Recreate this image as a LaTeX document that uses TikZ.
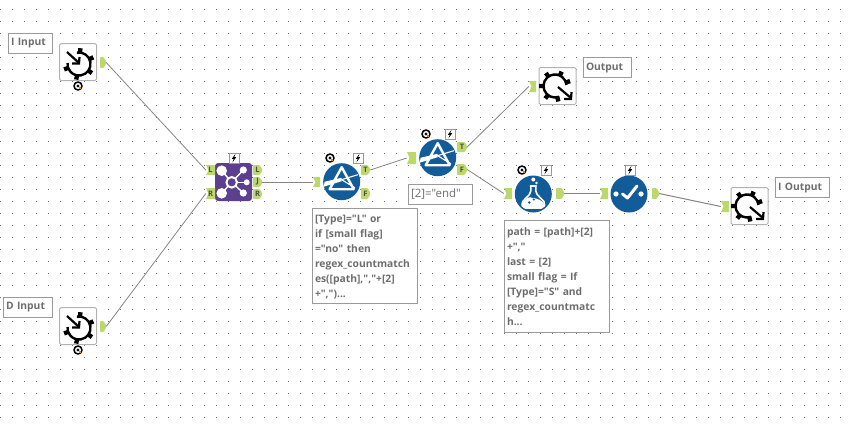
\documentclass[tikz,border=0pt]{standalone}
\usepackage{fontspec}
\setmainfont[Ligatures=NoCommon,Mapping=]{Open Sans}
\definecolor{portgreen}{HTML}{BCD86C}
\definecolor{toolblue}{HTML}{135C9A}
\definecolor{joinpurple}{HTML}{5C3F8F}
\definecolor{wire}{HTML}{858585}
\definecolor{labelgrey}{HTML}{6E6E6E}
\definecolor{frameg}{HTML}{9A9A9A}
\tikzset{
  griddot/.style={fill=black!55},
  labelbox/.style={draw=frameg,line width=1pt,fill=white,inner xsep=2.5pt,inner ysep=0pt,anchor=north west,align=left,text=labelgrey,font=\fontsize{10.3}{15}\selectfont\bfseries},
  gearbox/.style={draw=black!30,line width=1pt,fill=white,rounded corners=1.5pt,minimum width=37pt,minimum height=37pt,inner sep=0pt},
  toolcircle/.style={circle,fill=toolblue,minimum size=37pt,inner sep=0pt},
  joinbox/.style={fill=joinpurple,rounded corners=3pt,minimum width=37pt,minimum height=38pt,inner sep=0pt},
  portnode/.style={inner sep=0pt,font=\fontsize{7.5}{8}\selectfont\bfseries,text=black!70},
  wireline/.style={draw=wire,line width=0.8pt},
  iconw/.style={draw=white,line cap=round,line join=round},
}
\newcommand\inport[6]{%
  \fill[portgreen] (#2,#4) -- (#3,#4) -- (#3,#5) -- (#2,#5) -- ({#2+2.5},{(#4+#5)/2}) -- cycle;
  \node[portnode,minimum width={(#3-#2)*1pt},minimum height={(#5-#4)*1pt}] (#1) at ({(#2+#3)/2},{(#4+#5)/2}) {#6};}
\newcommand\outport[6]{%
  \fill[portgreen,rounded corners=0.8pt] (#2,#4) -- ({#3-2.5},#4) -- (#3,{(#4+#5)/2-1.5}) -- (#3,{(#4+#5)/2+1.5}) -- ({#3-2.5},#5) -- (#2,#5) -- cycle;
  \node[portnode,minimum width={(#3-#2)*1pt},minimum height={(#5-#4)*1pt}] (#1) at ({(#2+#3)/2},{(#4+#5)/2}) {#6};}
\newcommand\bolt[2]{%
  \draw[draw=black!40,fill=white,line width=0.7pt] (#1,#2) rectangle ({#1+10},{#2+10});
  \fill[black] ({#1+6.5},{#2+0.8}) -- ({#1+2.8},{#2+5.8}) -- ({#1+4.8},{#2+5.8}) -- ({#1+3.4},{#2+9.4}) -- ({#1+7.2},{#2+4.2}) -- ({#1+5.2},{#2+4.2}) -- cycle;}
\newcommand\qbadge[2]{%
  \fill[black] (#1,#2) circle[radius=4.8];
  \draw[white,line width=1.4pt] (#1,#2) circle[radius=2.3];
  \draw[orange,line width=0.8pt] ({#1+1.2},{#2+1.2}) -- ({#1+3},{#2+3});}
\newcommand\geariconin[2]{%
  \begin{scope}[shift={(#1,#2)},y=1pt]
    \draw[black,line width=2.4pt] (100:11.5) arc[start angle=100,end angle=-185,radius=11.5];
    \foreach \a in {85,25,-35,-100,-160}{\fill[black] (\a-11:11) -- (\a-8:16) -- (\a+8:16) -- (\a+11:11) -- cycle;}
    \draw[black,line width=2.2pt] (-12,12) -- (0,1);
    \draw[black,line width=2.2pt] (-7,0.5) -- (0,0.5) -- (0.5,7);
  \end{scope}}
\newcommand\geariconout[2]{%
  \begin{scope}[shift={(#1,#2)},y=1pt]
    \draw[black,line width=2.4pt] (-70:11.5) arc[start angle=-70,end angle=-355,radius=11.5];
    \foreach \a in {18,65,125,180,232,-78}{\fill[black] (\a-11:11) -- (\a-8:16) -- (\a+8:16) -- (\a+11:11) -- cycle;}
    \draw[black,line width=2.2pt] (3,-1) -- (16,-12);
    \draw[black,line width=2.2pt] (9,-13) -- (16,-13) -- (16.5,-6);
  \end{scope}}
\newcommand\filtericon[2]{%
  \begin{scope}[shift={(#1,#2)},y=1pt]
    \draw[iconw,line width=2.4pt] (0,14.5) -- (-12,-7.5) -- (12,-7.5) -- cycle;
    \fill[white] (-18,-5) -- (-17,0) -- (0,4) -- (0,0.5) -- cycle;
    \draw[iconw,line width=1.1pt] (0,2) -- (16,7);
    \draw[iconw,line width=1.1pt] (0,2) -- (13,-6);
  \end{scope}}
\begin{document}
\begin{tikzpicture}[x=1pt,y=-1pt]
\useasboundingbox (0,0) rectangle (852,424);
\fill[white] (0,0) rectangle (852,424);
\foreach \i in {0,...,71}{\foreach \j in {0,...,34}{\fill[griddot] ({12*\i},{9+12*\j}) rectangle ++(1,1);}}
% labels
\node[labelbox,text width=39pt,minimum height=20pt] (lblI) at (8,33) {I Input};
\node[labelbox,text width=44pt,minimum height=20pt] (lblD) at (3,297) {D Input};
\node[labelbox,text width=43pt,minimum height=20pt] (lblO) at (583,57) {Output};
\node[labelbox,text width=49pt,minimum height=20pt] (lblIO) at (775,177) {I Output};
\node[labelbox,text width=59pt,minimum height=20pt,font=\fontsize{11.5}{15}\selectfont] (lblF2) at (408,184) {[2]="end"};
\node[labelbox,text width=100pt,inner ysep=4.5pt,inner xsep=2.5pt] (lblF1) at (312,208) {\rule{0pt}{3pt}\\[-9pt][Type]="L" or\\if [small flag]\\="no" then\\regex\_countmatch\\es([path],","+[2]\\+",")...};
\node[labelbox,text width=100pt,inner ysep=7.5pt,inner xsep=2.5pt] (lblFm) at (504,220) {\rule{0pt}{3pt}\\[-11pt]path = [path]+[2]\\+","\\last = [2]\\small flag = If\\{[Type]}="S" and\\regex\_countmatc\\h...};
% gear tools
\node[gearbox] (inI) at (78,62) {};
\geariconin{79}{64}
\qbadge{78}{86}
\node[gearbox] (inD) at (78,326) {};
\geariconin{79}{328}
\qbadge{78}{350}
\node[gearbox] (outO) at (557.5,86) {};
\geariconout{555}{86}
\node[gearbox] (outI) at (749.5,206) {};
\geariconout{747}{206}
% join tool
\node[joinbox] (join) at (233.5,182) {};
\foreach \px/\py in {221.7/170.7,221.7/193.3,243.3/170,246.7/182.3,243.3/193}{\draw[white,line width=1.4pt] (231.7,182.3) -- (\px,\py);}
\fill[white] (221.7,170.7) circle[radius=5.3];
\fill[white] (221.7,193.3) circle[radius=5.3];
\fill[white] (243.3,170) circle[radius=3.6];
\fill[white] (246.7,182.3) circle[radius=3];
\fill[white] (243.3,193) circle[radius=3.6];
\draw[white,fill=joinpurple,line width=2pt] (231.7,182.3) circle[radius=5.3];
\bolt{229}{153}
% filters
\node[toolcircle] (f1) at (341.7,181.7) {};
\filtericon{341.7}{181.7}
\bolt{353}{153}
\qbadge{330}{158}
\node[toolcircle] (f2) at (437.7,157.7) {};
\filtericon{437.7}{157.7}
\bolt{445}{129}
\qbadge{426}{134}
% formula
\node[toolcircle] (fm) at (533.3,194) {};
\begin{scope}[shift={(533.3,194)},y=1pt]
  \fill[white] (0,14.5) circle[radius=2];
  \fill[white] (3.2,11) circle[radius=1.4];
  \draw[iconw,line width=1.6pt,rounded corners=2pt] (-3,8) -- (3,8) (-2.5,8) -- (-2.5,1) -- (-12,-9) -- (-10,-14) -- (10,-14) -- (12,-9) -- (2.5,1) -- (2.5,8);
  \fill[white,rounded corners=1.5pt] (-11,-9) -- (-5,-3) -- (5,-5) -- (11,-9) -- (10,-14) -- (-10,-14) -- cycle;
  \fill[toolblue] (-4,-8.5) circle[radius=1.4];
  \fill[toolblue] (0.5,-5.5) circle[radius=1.2];
\end{scope}
\bolt{541}{165}
\qbadge{522}{170}
% select
\node[toolcircle] (sel) at (629,194) {};
\begin{scope}[shift={(629,194)},y=1pt]
  \fill[white] (-13,0) circle[radius=2.6];
  \fill[white] (12,0) circle[radius=2.6];
  \draw[iconw,line width=3pt] (-6.5,0) -- (-1.5,-4) -- (8,8);
\end{scope}
\bolt{625}{165}
% ports
\outport{pI}{100}{106}{57}{68}{}
\outport{pD}{100}{106}{321}{332}{}
\inport{jL}{206}{215}{165}{175}{L}
\inport{jR}{206}{215}{188}{199}{R}
\outport{joL}{253}{262}{165}{175}{L}
\outport{joJ}{253}{262}{177}{187}{J}
\outport{joR}{253}{262}{189}{199}{R}
\inport{f1i}{313}{320}{177}{187}{}
\outport{f1T}{361}{370}{165}{175}{T}
\outport{f1F}{361}{370}{188}{199}{F}
\inport{f2i}{407}{416}{152}{164}{}
\outport{f2T}{457}{467}{142}{152}{T}
\outport{f2F}{457}{467}{164}{175}{F}
\inport{fmi}{504}{512}{188}{199}{}
\outport{fmo}{556}{564}{188}{199}{}
\inport{seli}{600}{608}{188}{199}{}
\outport{selo}{652}{659}{188}{199}{}
\inport{oOi}{529}{536}{81}{92}{}
\inport{oIi}{721}{729}{201}{212}{}
% connectors
\draw[wireline] (pI.east) -- (jL.west);
\draw[wireline] (pD.east) -- (jR.west);
\draw[wireline,line width=1pt] (joJ.east) -- (f1i.west);
\draw[wireline] (f1T.east) -- (f2i.west);
\draw[wireline] (f2T.east) -- (oOi.west);
\draw[wireline] (f2F.east) -- (fmi.west);
\draw[wireline,line width=1pt] (fmo.east) -- (seli.west);
\draw[wireline,line width=1pt] (selo.east) -- (oIi.west);
\end{tikzpicture}
\end{document}
